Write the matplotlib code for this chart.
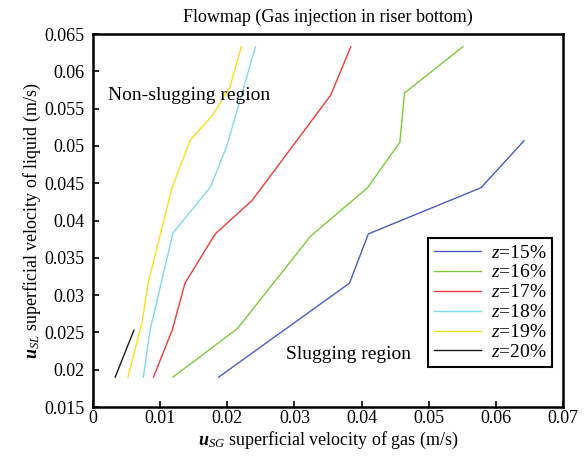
import matplotlib
matplotlib.use("Agg")
import matplotlib.pyplot as plt

plt.rcParams['font.family'] = ['Liberation Serif', 'DejaVu Serif']
plt.rcParams['mathtext.fontset'] = 'custom'
plt.rcParams['mathtext.rm'] = 'Liberation Serif'
plt.rcParams['mathtext.it'] = 'Liberation Serif:italic'
plt.rcParams['mathtext.bf'] = 'Liberation Serif:bold:italic'

# Data
z15_x = [0.0187, 0.0382, 0.0410, 0.0578, 0.0642]
z15_y = [0.0190, 0.0316, 0.0382, 0.0444, 0.0507]
z16_x = [0.0119, 0.0215, 0.0324, 0.0409, 0.0457, 0.0464, 0.0551]
z16_y = [0.0190, 0.0255, 0.0379, 0.0444, 0.0505, 0.0571, 0.0633]
z17_x = [0.0090, 0.0118, 0.0137, 0.0182, 0.0237, 0.0354, 0.0384]
z17_y = [0.0190, 0.0253, 0.0316, 0.0382, 0.0427, 0.0568, 0.0633]
z18_x = [0.0075, 0.0085, 0.0119, 0.0175, 0.0199, 0.0242]
z18_y = [0.0190, 0.0253, 0.0383, 0.0445, 0.0499, 0.0633]
z19_x = [0.0052, 0.0073, 0.0082, 0.0118, 0.0145, 0.0178, 0.0204, 0.0221]
z19_y = [0.0190, 0.0263, 0.0316, 0.0445, 0.0508, 0.0541, 0.0579, 0.0633]
z20_x = [0.0033, 0.0061]
z20_y = [0.0190, 0.0253]

series = [
    (z15_x, z15_y, '#4a5cc2', r'$\mathit{z}$=15%'),
    (z16_x, z16_y, '#7cc83c', r'$\mathit{z}$=16%'),
    (z17_x, z17_y, '#ee3a3a', r'$\mathit{z}$=17%'),
    (z18_x, z18_y, '#80dbe8', r'$\mathit{z}$=18%'),
    (z19_x, z19_y, '#f6e01a', r'$\mathit{z}$=19%'),
    (z20_x, z20_y, '#1a1a1a', r'$\mathit{z}$=20%'),
]

xticks = [0, 0.01, 0.02, 0.03, 0.04, 0.05, 0.06, 0.07]
xticklabels = ['0', '0.01', '0.02', '0.03', '0.04', '0.05', '0.06', '0.07']
yticks = [0.015, 0.02, 0.025, 0.03, 0.035, 0.04, 0.045, 0.05, 0.055, 0.06, 0.065]
yticklabels = ['0.015', '0.02', '0.025', '0.03', '0.035', '0.04', '0.045', '0.05', '0.055', '0.06', '0.065']

fig = plt.figure(figsize=(5.86, 4.57), dpi=100)
ax = fig.add_axes([0.1587, 0.1094, 0.8021, 0.8162])

for x, y, c, lab in series:
    ax.plot(x, y, color=c, lw=1.0, label=lab)

ax.set_xlim(0, 0.07)
ax.set_ylim(0.015, 0.065)
ax.set_xticks(xticks)
ax.set_xticklabels(xticklabels)
ax.set_yticks(yticks)
ax.set_yticklabels(yticklabels)
ax.tick_params(direction='in', length=4, width=1.2, labelsize=13, top=False, right=False)
ax.tick_params(axis='y', pad=6)
ax.tick_params(axis='x', pad=2)
for s in ax.spines.values():
    s.set_linewidth(1.8)

ax.set_title('Flowmap (Gas injection in riser bottom)', fontsize=13, pad=9)
ax.set_xlabel(r'$\mathbf{u}_{\mathit{SG}}$ superficial velocity of gas (m/s)', fontsize=13, labelpad=2)
ax.set_ylabel(r'$\mathbf{u}_{\mathit{SL}}$ superficial velocity of liquid (m/s)', fontsize=13, labelpad=1)

ax.text(0.0022, 0.0568, 'Non-slugging region', fontsize=14, va='center', ha='left')
ax.text(0.0287, 0.0221, 'Slugging region', fontsize=14, va='center', ha='left')

leg = ax.legend(loc='lower right', bbox_to_anchor=(0.977, 0.107), fontsize=14,
                frameon=True, fancybox=False, edgecolor='black', framealpha=1,
                handlelength=2.4, labelspacing=0.12, borderpad=0.3, handletextpad=0.5,
                borderaxespad=0)
leg.get_frame().set_linewidth(1.5)

fig.savefig('out.png', dpi=100)
